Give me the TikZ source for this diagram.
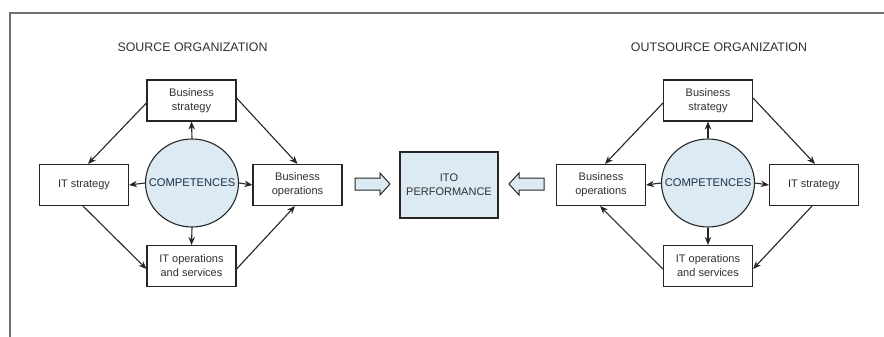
\documentclass[tikz,border=0pt]{standalone}
\usepackage{fontspec}
\setmainfont{Liberation Sans}
\usetikzlibrary{arrows.meta,shapes.geometric}
\definecolor{ink}{HTML}{262626}
\definecolor{txt}{HTML}{303030}
\definecolor{navy}{HTML}{1E2E48}
\definecolor{paleblue}{HTML}{DCEAF4}
\definecolor{framegray}{HTML}{707070}
\begin{document}
\begin{tikzpicture}[x=1pt,y=-1pt,
  every node/.style={font=\fontsize{11}{14}\selectfont, text=txt},
  unit/.style={draw=ink, line width=1.1pt, fill=white, minimum width=89pt,
    minimum height=41pt, inner sep=0pt, align=center},
  core/.style={ellipse, draw=ink, line width=1.1pt, fill=paleblue,
    minimum width=93pt, minimum height=88pt, inner sep=0pt,
    label={[text=navy, font=\fontsize{11.2}{14}\selectfont]center:COMPETENCES}},
  result/.style={draw=ink, line width=1.1pt, fill=paleblue, minimum width=98pt,
    minimum height=66pt, inner sep=0pt, align=center},
  title/.style={font=\fontsize{12.4}{14}\selectfont, text=txt},
  link/.style={draw=ink, line width=1.1pt, -{Stealth[length=8pt,width=6.5pt]}},
  bigarrow/.style={draw=ink, line width=1pt, fill=paleblue, line join=miter}]
\useasboundingbox (0,0) rectangle (884,337);
% page frame
\draw[framegray, line width=1.3pt] (10,337) -- (10,13) -- (884,13);

% ---------- source organization ----------
\node[title] (srct) at (192.5,47) {SOURCE ORGANIZATION};
\node[unit] (bs1) at (191.5,100.5) {Business\\strategy};
\node[unit] (its1) at (84,185) {IT strategy};
\node[unit] (bo1) at (297.5,185) {Business\\operations};
\node[unit] (ito1) at (191.5,266) {IT operations\\and services};
\node[core] (c1) at (192,183) {};

\draw[link] ([yshift=-2.5pt]bs1.west) -- ([xshift=4pt]its1.north);
\draw[link] ([yshift=2.5pt]bs1.east) -- (bo1.north);
\draw[link] ([xshift=-1pt]its1.south) -- ([yshift=-3pt]ito1.west);
\draw[link] ([yshift=-3pt]ito1.east) -- ([xshift=-2.5pt]bo1.south);
\draw[link] (c1.north) -- (bs1.south);
\draw[link] (c1.south) -- (ito1.north);
\draw[link] (c1.west) -- (its1.east);
\draw[link] (c1.east) -- (bo1.west);

% ---------- outcome ----------
\node[result] (perf) at (449,185) {ITO\\PERFORMANCE};
\draw[bigarrow] (355,178) -- (380,178) -- (380,173) -- (390,184)
  -- (380,195) -- (380,190) -- (355,190) -- cycle;
\draw[bigarrow] (544,178) -- (519,178) -- (519,173) -- (509,184)
  -- (519,195) -- (519,190) -- (544,190) -- cycle;

% ---------- outsource organization ----------
\node[title] (outt) at (719,47) {OUTSOURCE ORGANIZATION};
\node[unit] (bs2) at (708,100.5) {Business\\strategy};
\node[unit] (bo2) at (601,185) {Business\\operations};
\node[unit] (its2) at (814,185) {IT strategy};
\node[unit] (ito2) at (708,266) {IT operations\\and services};
\node[core] (c2) at (708,183) {};

\draw[link] ([yshift=-2.5pt]bs2.west) -- ([xshift=4pt]bo2.north);
\draw[link] ([yshift=2.5pt]bs2.east) -- ([xshift=1pt]its2.north);
\draw[link] ([xshift=-2pt]its2.south) -- ([yshift=-3pt]ito2.east);
\draw[link] ([yshift=-3pt]ito2.west) -- ([xshift=-1pt]bo2.south);
\draw[link] (c2.north) -- (bs2.south);
\draw[link] (c2.south) -- (ito2.north);
\draw[link] (c2.west) -- (bo2.east);
\draw[link] (c2.east) -- (its2.west);
\end{tikzpicture}
\end{document}
